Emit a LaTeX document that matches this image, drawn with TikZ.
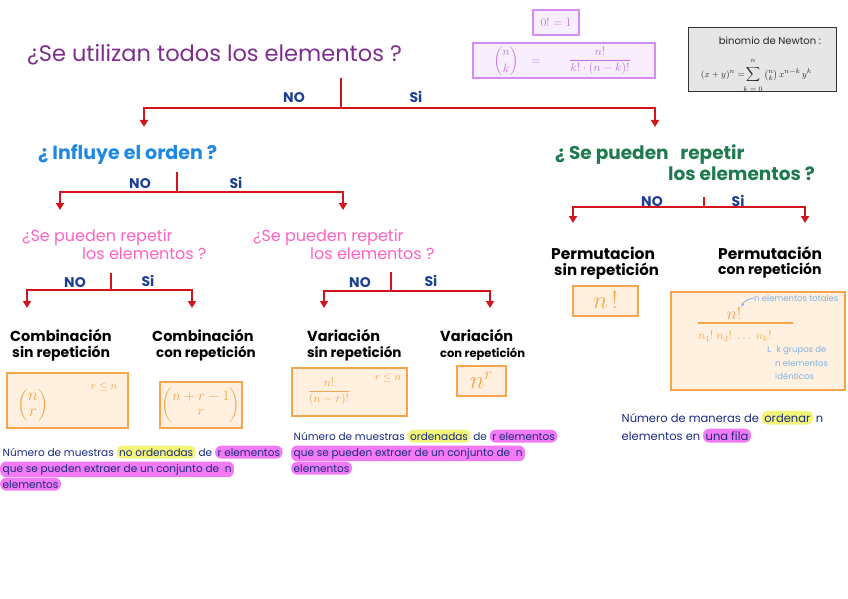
\documentclass[tikz,border=0pt]{standalone}
\usepackage{fontspec}
\usepackage{amsmath}
\setmainfont{Poppins}
\usetikzlibrary{arrows.meta}
\definecolor{purp}{HTML}{7E2C8E}
\definecolor{noc}{HTML}{1C3F94}
\definecolor{redc}{HTML}{D3141C}
\definecolor{bluec}{HTML}{1E88E5}
\definecolor{pinkc}{HTML}{FF62C1}
\definecolor{greenc}{HTML}{1F7A50}
\definecolor{orc}{HTML}{F7A54B}
\definecolor{orfill}{HTML}{FFF0DF}
\definecolor{pbord}{HTML}{D68CF2}
\definecolor{pfill}{HTML}{F8EEFD}
\definecolor{ptext}{HTML}{C070E0}
\definecolor{grayfill}{HTML}{E6E6E6}
\definecolor{lblue}{HTML}{7FB3E6}
\definecolor{hly}{HTML}{F2F57A}
\definecolor{hlp}{HTML}{F27AF5}
\definecolor{desc}{HTML}{1A2A80}
\newcommand{\fs}[1]{\fontsize{#1}{#1}\selectfont}
\begin{document}
\begin{tikzpicture}[x=1pt,y=-1pt,
  br/.style={draw=redc,line width=2.2pt},
  arr/.style={br,-{Triangle[length=7pt,width=8pt]}},
  yn/.style={text=noc,font=\bfseries\fs{14},inner sep=0pt},
  ttl/.style={text=purp,font=\fs{22.5},anchor=west,inner sep=0pt},
  qblue/.style={text=bluec,font=\bfseries\fs{19},anchor=west,inner sep=0pt},
  qpink/.style={text=pinkc,font=\fs{16},anchor=west,inner sep=0pt},
  qgreen/.style={text=greenc,font=\bfseries\fs{18.5},anchor=west,inner sep=0pt},
  kind/.style={text=black,font=\bfseries\fs{14.5},anchor=west,inner sep=0pt},
  kind2/.style={text=black,font=\bfseries\fs{13.5},anchor=west,inner sep=0pt},
  obox/.style={draw=orc,fill=orfill,line width=1.2pt,inner sep=0pt},
  pbox/.style={draw=pbord,fill=pfill,line width=1.2pt,inner sep=0pt},
  otext/.style={text=orc,inner sep=0pt},
  ntext/.style={text=black!85,inner sep=0pt},
  dtxt/.style={text=desc,font=\fs{10.5},anchor=base west,inner xsep=2.5pt,inner ysep=2.5pt},
  hy/.style={dtxt,fill=hly,rounded corners=5pt},
  hp/.style={dtxt,fill=hlp,rounded corners=6pt},
  ann/.style={text=lblue,font=\fs{8.5},anchor=west,inner sep=0pt}
]
\useasboundingbox (0,0) rectangle (848,599);

% ---------- level 0
\node[ttl] (q0) at (27,55) {¿Se utilizan todos los elementos ?};
\coordinate (j0t) at (341,78);
\coordinate (j0) at (341,108);
\coordinate (a0L) at (144,127);
\coordinate (a0R) at (655,127);
\draw[br] (j0t) -- (j0);
\draw[arr] (j0) -| (a0L);
\draw[arr] (j0) -| (a0R);
\node[yn] (no0) at (294,98) {NO};
\node[yn] (si0) at (416,97) {Si};

% ---------- formula boxes top
\node[pbox,minimum width=46pt,minimum height=25pt] (fact0) at (556,22.5) {};
\node[text=ptext,font=\fs{13}] (fact0t) at (fact0.center) {$0!=1$};
\node[pbox,minimum width=182pt,minimum height=35pt] (binb) at (564,60.5) {};
\node[text=ptext,font=\fs{13},inner sep=0pt] (binl) at (506,61) {$\dbinom{n}{k}$};
\node[text=ptext,font=\fs{13},inner sep=0pt] (bineq) at (536,62) {$=$};
\node[text=ptext,font=\fs{13},inner sep=0pt] (binr) at (600,61) {$\dfrac{n!}{k!\cdot(n-k)!}$};

\node[draw=black!80,fill=grayfill,line width=1pt,minimum width=148pt,minimum height=64pt] (newt) at (762,60) {};
\node[ntext,font=\fs{10}] (newtt) at (770,41) {binomio de Newton :};
\node[ntext,font=\fs{9.5},anchor=east] (nl) at (745,75) {$(x+y)^n=$};
\node[ntext,font=\fs{10}] (nsum) at (753,75) {$\displaystyle\sum$};
\node[ntext,font=\fs{7}] (nup) at (753,61) {$n$};
\node[ntext,font=\fs{7}] (nlow) at (753,89) {$k=0$};
\node[ntext,font=\fs{9.5},anchor=west] (nr) at (764,75) {$\binom{n}{k}\,x^{n-k}\,y^k$};

% ---------- level 1 left
\node[qblue] (q1L) at (38,155) {¿ Influye el orden ?};
\coordinate (j1t) at (177,172);
\coordinate (j1) at (177,192);
\coordinate (a1L) at (60,210);
\coordinate (a1R) at (343,210);
\draw[br] (j1t) -- (j1);
\draw[arr] (j1) -| (a1L);
\draw[arr] (j1) -| (a1R);
\node[yn] (no1) at (140,184) {NO};
\node[yn] (si1) at (236,183) {Si};

% ---------- pink questions
\node[qpink] (q2La) at (22,237) {¿Se pueden repetir};
\node[qpink] (q2Lb) at (82,254) {los elementos ?};
\node[qpink] (q2Ra) at (253,237) {¿Se pueden repetir};
\node[qpink] (q2Rb) at (310,254) {los elementos ?};

\coordinate (j2Lt) at (111,273);
\coordinate (j2L) at (111,290);
\coordinate (a2LL) at (27,308);
\coordinate (a2LR) at (192,308);
\draw[br] (j2Lt) -- (j2L);
\draw[arr] (j2L) -| (a2LL);
\draw[arr] (j2L) -| (a2LR);
\node[yn] (no2L) at (75,283) {NO};
\node[yn] (si2L) at (148,281) {Si};

\coordinate (j2Rt) at (391,272);
\coordinate (j2R) at (391,291);
\coordinate (a2RL) at (324,308);
\coordinate (a2RR) at (490,308);
\draw[br] (j2Rt) -- (j2R);
\draw[arr] (j2R) -| (a2RL);
\draw[arr] (j2R) -| (a2RR);
\node[yn] (no2R) at (360,283) {NO};
\node[yn] (si2R) at (431,281) {Si};

% ---------- level 1 right
\node[qgreen] (q1Ra) at (555,155) {¿ Se pueden \ \ repetir};
\node[qgreen] (q1Rb) at (668,174) {los elementos ?};
\coordinate (j1Rt) at (704,197);
\coordinate (j1R) at (704,207);
\coordinate (a1RL) at (573,223);
\coordinate (a1RR) at (805,223);
\draw[br] (j1Rt) -- (j1R);
\draw[arr] (j1R) -| (a1RL);
\draw[arr] (j1R) -| (a1RR);
\node[yn] (no1R) at (652,202) {NO};
\node[yn] (si1R) at (738,201) {Si};

% ---------- kinds
\node[kind] (k1a) at (10,336) {Combinación};
\node[kind2,font=\bfseries\fs{14}] (k1b) at (12,354) {sin repetición};
\node[kind] (k2a) at (152,336) {Combinación};
\node[kind2] (k2b) at (156,354) {con repetición};
\node[kind] (k3a) at (307,336) {Variación};
\node[kind2] (k3b) at (307,354) {sin repetición};
\node[kind] (k4a) at (440,336) {Variación};
\node[kind2,font=\bfseries\fs{11.5}] (k4b) at (440,354) {con repetición};
\node[kind,font=\bfseries\fs{15.5}] (k5a) at (551,253) {Permutacion};
\node[kind2,font=\bfseries\fs{15}] (k5b) at (554,271) {sin repetición};
\node[kind,font=\bfseries\fs{15.5}] (k6a) at (718,253) {Permutación};
\node[kind2,font=\bfseries\fs{14}] (k6b) at (718,271) {con repetición};

% ---------- result boxes
\node[obox,minimum width=121pt,minimum height=55pt] (b1) at (67.5,400.5) {};
\node[otext,font=\fontsize{19}{16}\selectfont] (b1f) at (33,405) {$\left(\begin{matrix}n\\ r\end{matrix}\right)$};
\node[otext,font=\fs{11}] (b1c) at (104,387) {$r\le n$};

\node[obox,minimum width=82pt,minimum height=46pt] (b2) at (201,405) {};
\node[otext,font=\fs{15}] (b2f) at (201,405) {$\left(\begin{matrix}n+r-1\\ r\end{matrix}\right)$};

\node[obox,minimum width=115pt,minimum height=48pt] (b3) at (349.5,392) {};
\node[otext,font=\fs{13}] (b3f) at (329,392) {$\dfrac{n!}{(n-r)!}$};
\node[otext,font=\fs{11}] (b3c) at (388,378) {$r\le n$};

\node[obox,minimum width=49pt,minimum height=30pt] (b4) at (481.5,381) {};
\node[otext,font=\fs{26}] (b4f) at (481.5,380) {$n^{r}$};

\node[obox,minimum width=65pt,minimum height=30pt] (b5) at (605.5,301) {};
\node[otext,font=\fs{28}] (b5f) at (605.5,300) {$n\,!$};

\node[obox,minimum width=174pt,minimum height=98pt] (b6) at (758,341) {};
\node[otext,font=\fs{17}] (b6n) at (734,313) {$n!$};
\coordinate (b6l1) at (698,323);
\coordinate (b6l2) at (793,323);
\draw[draw=orc,line width=1.2pt] (b6l1) -- (b6l2);
\node[otext,font=\fs{12}] (b6d) at (735,336) {$n_1!\;n_2!\;\ldots\;n_k!$};
\node[ann] (b6a) at (754,298) {n elementos totales};
\draw[draw=lblue,line width=0.8pt,-{Stealth[length=4pt]}] (b6a.west) to[bend right=30] (b6n.north east);
\node[ann] (b6b1) at (767,350) {\textsf{L}\ \ k grupos de};
\node[ann] (b6b2) at (775,363) {n elementos};
\node[ann] (b6b3) at (775,376) {idénticos};

% ---------- descriptions left
\node[dtxt] (d1a) at (0,456) {Número de muestras};
\node[hy] (d1b) at (d1a.base east) {no ordenadas};
\node[dtxt] (d1c) at (d1b.base east) {de};
\node[hp] (d1d) at (d1c.base east) {r elementos};
\node[hp] (d2) at (0,472) {que se pueden extraer de un conjunto de \ n};
\node[hp] (d3) at (0,488) {elementos};

% ---------- descriptions middle
\node[dtxt] (m1a) at (291,440) {Número de muestras};
\node[hy] (m1b) at (m1a.base east) {ordenadas};
\node[dtxt] (m1c) at (m1b.base east) {de};
\node[hp] (m1d) at (m1c.base east) {r elementos};
\node[hp] (m2) at (291,456) {que se pueden extraer de un conjunto de \ n};
\node[hp] (m3) at (291,472) {elementos};

% ---------- descriptions right
\node[dtxt,font=\fs{11.5}] (r1a) at (619,422) {Número de maneras de};
\node[hy,font=\fs{11.5}] (r1b) at (r1a.base east) {ordenar};
\node[dtxt,font=\fs{11.5}] (r1c) at (r1b.base east) {n};
\node[dtxt,font=\fs{11.5}] (r2a) at (619,440) {elementos en};
\node[hp,font=\fs{11.5}] (r2b) at (r2a.base east) {una fila};
\end{tikzpicture}
\end{document}
